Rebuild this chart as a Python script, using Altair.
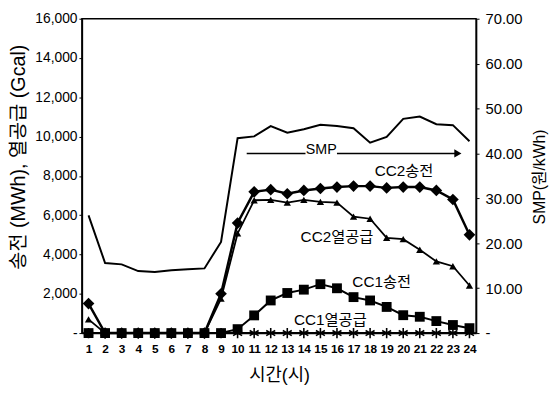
import altair as alt
import pandas as pd

hours = list(range(1, 25))
smp = [26.2, 15.6, 15.3, 13.8, 13.6, 14.0, 14.2, 14.4, 20.3, 43.4, 43.8, 46.1,
       44.6, 45.4, 46.4, 46.1, 45.6, 42.4, 43.7, 47.7, 48.2, 46.5, 46.3, 42.7]
cc2_power = [1500, 0, 0, 0, 0, 0, 0, 0, 2000, 5600, 7190, 7300,
             7090, 7260, 7360, 7430, 7480, 7480, 7390, 7430, 7430, 7260, 6800, 5000]
cc2_heat = [700, 0, 0, 0, 0, 0, 0, 0, 1750, 5070, 6760, 6780,
            6640, 6780, 6680, 6640, 5930, 5820, 4850, 4780, 4240, 3650, 3400, 2420]
cc1_power = [0, 0, 0, 0, 0, 0, 0, 0, 0, 200, 900, 1660,
             2040, 2210, 2490, 2280, 1830, 1660, 1330, 910, 830, 610, 410, 250]
cc1_heat = [0] * 24

label_text = ["CC2송전", "CC2열공급", "CC1송전", "CC1열공급"]
label_x = [20.05, 16.0, 18.7, 15.6]
label_y = [8250, 4900, 2590, 660]

FONT = "Liberation Sans"
KFONT = "Liberation Sans, Noto Sans CJK KR"

xscale = alt.Scale(domain=[0.6, 24.4], nice=False, zero=False)
lscale = alt.Scale(domain=[0, 16000], nice=False)
rscale = alt.Scale(domain=[0, 70], nice=False)

xaxis = alt.Axis(values=hours, title="시간(시)", grid=False, ticks=False,
                 labelFont=FONT, labelFontSize=12, labelFontWeight="bold",
                 labelPadding=11, labelColor="black", labelAngle=0,
                 domainColor="black", domainWidth=1.5,
                 titleFont=KFONT, titleFontSize=18, titleFontWeight="normal",
                 titleColor="black", titleY=43, titleBaseline="middle")

laxis = alt.Axis(values=list(range(0, 16001, 2000)), title="송전 (MWh), 열공급 (Gcal)",
                 grid=False, tickSize=3, tickColor="black", labelPadding=2,
                 labelExpr="datum.value == 0 ? '-\u00a0\u00a0' : format(datum.value, ',')",
                 labelFont=FONT, labelFontSize=14, labelColor="black",
                 domainColor="black", domainWidth=1.5,
                 titleFont=KFONT, titleFontSize=20, titleFontWeight="normal",
                 titleColor="black", titleAngle=270, titleX=-64, titleY=140,
                 titleAlign="center", titleBaseline="middle")

raxis = alt.Axis(orient="right", values=list(range(0, 71, 10)), title="SMP(원/kWh)",
                 grid=False, tickSize=3, tickColor="black", labelPadding=6,
                 labelExpr="datum.value == 0 ? '\u00a0-' : format(datum.value, '.2f')",
                 labelFont=FONT, labelFontSize=15, labelColor="black",
                 domainColor="black", domainWidth=1.5,
                 titleFont=KFONT, titleFontSize=16, titleFontWeight="normal",
                 titleColor="black", titleAngle=270, titleX=64, titleY=160,
                 titleAlign="center", titleBaseline="middle")

df = pd.DataFrame({"hour": hours, "smp": smp, "cc2p": cc2_power, "cc2h": cc2_heat,
                   "cc1p": cc1_power, "cc1h": cc1_heat})
base = alt.Chart(df)


def X(field="hour"):
    return alt.X(f"{field}:Q", scale=xscale, axis=xaxis)


def YL(field):
    return alt.Y(f"{field}:Q", scale=lscale, axis=laxis)


def YR(field):
    return alt.Y(f"{field}:Q", scale=rscale, axis=raxis)


asterisk = "M0,-1L0,1M-0.87,-0.5L0.87,0.5M-0.87,0.5L0.87,-0.5"

cc2p_line = base.mark_line(color="black", strokeWidth=2.5).encode(x=X(), y=YL("cc2p"))
cc2p_pts = base.mark_point(shape="diamond", filled=True, color="black", size=140, opacity=1).encode(
    x=X(), y=YL("cc2p"))
cc2h_line = base.mark_line(color="black", strokeWidth=1.8).encode(x=X(), y=YL("cc2h"))
cc2h_pts = base.mark_point(shape="triangle-up", filled=True, color="black", size=55, opacity=1).encode(
    x=X(), y=YL("cc2h"))
cc1h_line = base.mark_line(color="black", strokeWidth=2).encode(x=X(), y=YL("cc1h"))
cc1h_pts = base.mark_point(shape=asterisk, filled=False, color="black", size=110,
                           strokeWidth=1.6, opacity=1).encode(x=X(), y=YL("cc1h"))
cc1p_line = base.mark_line(color="black", strokeWidth=2).encode(x=X(), y=YL("cc1p"))
cc1p_pts = base.mark_point(shape="square", filled=True, color="black", size=100, opacity=1).encode(
    x=X(), y=YL("cc1p"))

ldf = pd.DataFrame({"t": label_text, "x": label_x, "y": label_y})
labels = alt.Chart(ldf).mark_text(font=KFONT, fontSize=15.5, color="black",
                                  align="center", baseline="middle").encode(
    x=X("x"), y=YL("y"), text="t:N")

left = alt.layer(cc2p_line, cc2p_pts, cc2h_line, cc2h_pts, cc1h_line, cc1h_pts,
                 cc1p_line, cc1p_pts, labels)

smp_line = base.mark_line(color="black", strokeWidth=2).encode(x=X(), y=YR("smp"))

arrow_df = pd.DataFrame({"x": [10.55, 16.0], "x2": [14.1, 23.3], "y": [40, 40]})
arrow_lines = alt.Chart(arrow_df).mark_rule(color="black", strokeWidth=1.5).encode(
    x=X("x"), x2="x2:Q", y=YR("y"))
head_df = pd.DataFrame({"x": [23.3], "y": [40]})
arrow_head = alt.Chart(head_df).mark_point(shape="triangle-right", filled=True, color="black",
                                           size=70, opacity=1).encode(x=X("x"), y=YR("y"))
smp_df = pd.DataFrame({"x": [15.05], "y": [40], "t": ["SMP"]})
smp_text = alt.Chart(smp_df).mark_text(font=FONT, fontSize=14.5, color="black",
                                       align="center", baseline="alphabetic", dy=1).encode(
    x=X("x"), y=YR("y"), text="t:N")

right = alt.layer(smp_line, arrow_lines, arrow_head, smp_text)

chart = alt.layer(left, right).resolve_scale(y="independent").properties(
    width=400, height=319,
    autosize=alt.AutoSizeParams(type="none"),
    padding={"left": 75, "top": 8, "right": 75, "bottom": 62},
).configure_view(stroke="black", strokeWidth=1.5)

chart.save("out.html", embed_options={"renderer": "svg", "actions": False})
